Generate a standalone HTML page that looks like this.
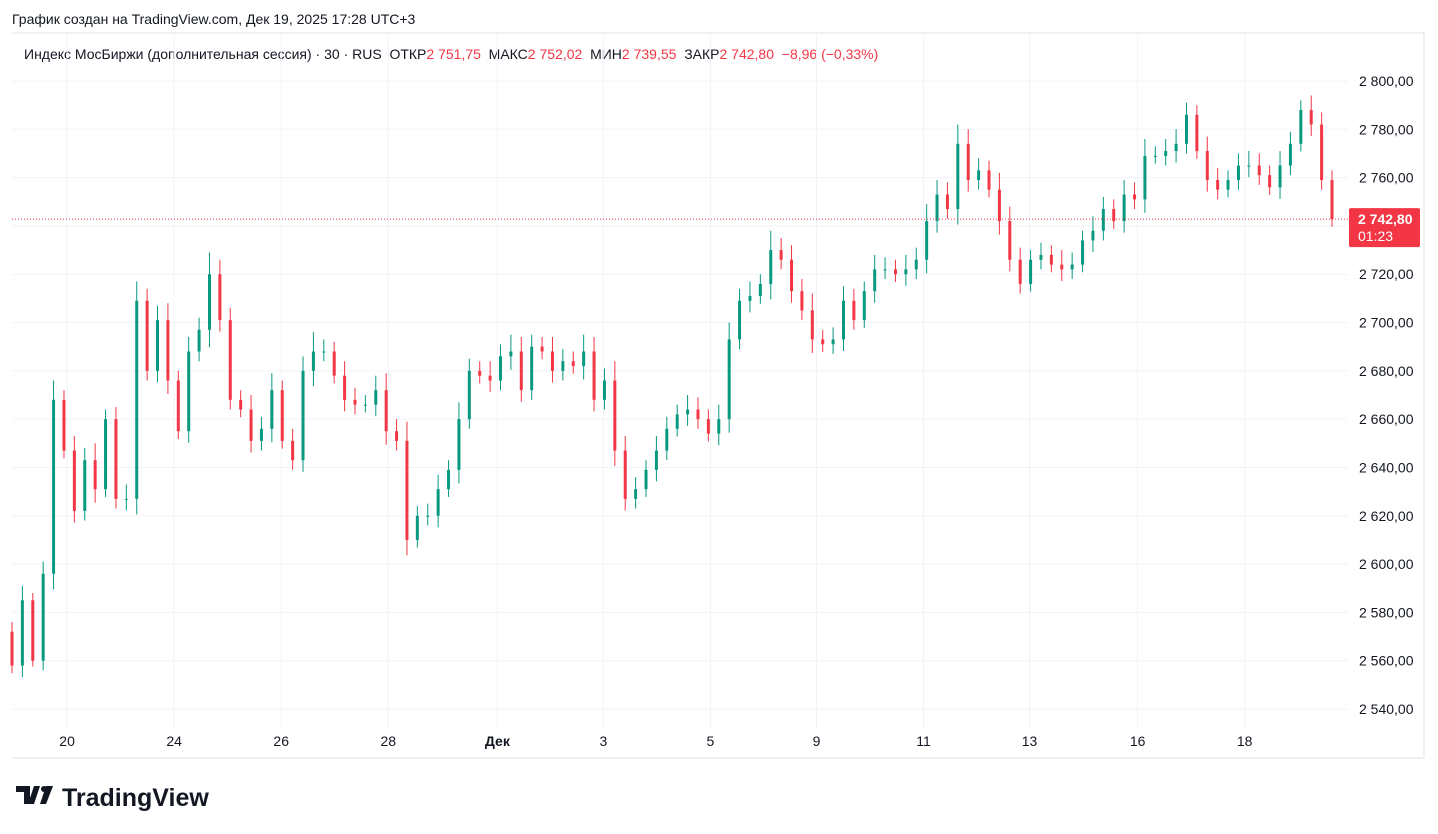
<!DOCTYPE html>
<html><head><meta charset="utf-8"><style>
body{margin:0;width:1438px;height:834px;background:#fff;overflow:hidden;font-family:"Liberation Sans",sans-serif}
</style></head><body>
<svg id="chart" width="1438" height="834" style="position:absolute;left:0;top:0">
<text x="12" y="24" font-size="14" fill="#131722">График создан на TradingView.com, Дек 19, 2025 17:28 UTC+3</text>
<text x="24" y="59" font-size="14" fill="#131722" xml:space="preserve">Индекс МосБиржи (дополнительная сессия) · 30 · RUS  ОТКР<tspan fill="#f23645">2 751,75</tspan>  МАКС<tspan fill="#f23645">2 752,02</tspan>  МИН<tspan fill="#f23645">2 739,55</tspan>  ЗАКР<tspan fill="#f23645">2 742,80  −8,96 (−0,33%)</tspan></text>
<line x1="12" y1="33" x2="1424" y2="33" stroke="#e0e3eb"/>
<line x1="1424" y1="33" x2="1424" y2="758" stroke="#e0e3eb"/>
<line x1="12" y1="758" x2="1424" y2="758" stroke="#e0e3eb"/>
<g id="grid"></g><g id="candles"></g><g id="axis"></g>
<g>
<path d="M16 786h14v18h-6v-12h-8z M34 786h6l-6 18h-6z" fill="#131722"/>
<circle cx="44" cy="789" r="3" fill="#131722"/>
<path d="M46 786h7l-7 18h-6z" fill="#131722"/>
<text x="62" y="806" font-size="25" font-weight="bold" fill="#131722">TradingView</text>
</g>
</svg>
<script>
const closes=[2558,2585,2560,2596,2668,2647,2622,2643,2631,2660,
2627,2627,2709,2680,2701,2676,2655,2688,2697,2720,
2701,2668,2664,2651,2656,2672,2651,2643,2680,2688,
2688,2678,2668,2666,2666,2672,2655,2651,2610,2620,
2620,2631,2639,2660,2680,2678,2676,2686,2688,2672,
2690,2688,2680,2684,2682,2688,2668,2676,2647,2627,
2631,2639,2647,2656,2662,2664,2660,2654,2660,2693,
2709,2711,2716,2730,2726,2713,2705,2693,2691,2693,
2709,2701,2713,2722,2722,2720,2722,2726,2742,2753,
2747,2774,2759,2763,2755,2742,2726,2716,2726,2728,
2724,2722,2724,2734,2738,2747,2742,2753,2751,2769,
2769,2771,2774,2786,2771,2759,2755,2759,2765,2765,
2761,2756,2765,2774,2788,2782,2759,2742.8];
const wicks=[4,6,3,5,8,4,6,5,7,4,5,6,8,5,6,7,4,6,5,9,6,5,4,6,5,7,4,5,6,8,
5,4,6,5,4,6,7,5,8,4,5,6,4,7,5,4,6,5,7,6,5,4,6,5,4,7,6,5,8,6,
5,4,6,5,4,6,5,4,6,7,5,6,4,8,5,6,5,7,4,5,6,5,4,6,5,4,6,5,7,6,
5,8,6,5,4,7,6,5,4,5,4,6,5,4,6,5,4,6,5,7,4,5,6,5,4,6,5,4,5,6,
5,4,6,5,4,6,5,4];
const firstOpen=2572;
const ticks=[2800,2780,2760,2740,2720,2700,2680,2660,2640,2620,2600,2580,2560,2540];
const dateLabels=["20","24","26","28","Дек","3","5","9","11","13","16","18"];
const dateIdx=[5.3,15.6,25.9,36.2,46.7,56.9,67.2,77.4,87.7,97.9,108.3,118.6];
const lastPrice=2742.8;
const NS="http://www.w3.org/2000/svg";
const y=p=>81+(2800-p)*(628/260);
const x0=12,x1=1332,step=(x1-x0)/(closes.length-1);
const xi=i=>x0+i*step;
function mk(t,a,parent){const e=document.createElementNS(NS,t);for(const k in a)e.setAttribute(k,a[k]);parent.appendChild(e);return e;}
const G=document.getElementById('grid'),C=document.getElementById('candles'),A=document.getElementById('axis');
ticks.forEach(t=>{
 const l=mk('line',{x1:12,x2:1348,y1:y(t),y2:y(t),stroke:'#f0f3fa'},G);
 
 
 const tx=mk('text',{x:1359,y:y(t)+5,'font-size':14,fill:'#131722'},A);
 tx.textContent=t.toLocaleString('ru-RU',{minimumFractionDigits:2}).replace(/\u00a0/g,' ');
 
 
});
dateLabels.forEach((d,k)=>{
 const xx=xi(dateIdx[k]);
 const l=mk('line',{x1:xx,x2:xx,y1:33,y2:730,stroke:'#f0f3fa'},G);
 
 
 const tx=mk('text',{x:xx,y:746,'font-size':14,fill:'#131722','text-anchor':'middle','font-weight':d==='Дек'?'bold':'normal'},A);
 tx.textContent=d;
 
 
});
closes.forEach((c,i)=>{
 const o=i?closes[i-1]:firstOpen;
 const hi=Math.max(o,c)+wicks[i],lo=Math.min(o,c)-wicks[i]*0.8;
 const col=c>=o?'#089981':'#f23645';
 const xx=xi(i);
 const w=mk('line',{x1:xx,x2:xx,y1:y(hi),y2:y(lo),stroke:col,'stroke-width':1},C);
 
 
 const top=y(Math.max(o,c)),bot=y(Math.min(o,c));
 const b=mk('rect',{x:xx-1.5,y:top,width:3,height:Math.max(1,bot-top),fill:col},C);
 
 
});
const pl=mk('line',{x1:12,x2:1348,y1:y(lastPrice),y2:y(lastPrice),stroke:'#f23645','stroke-dasharray':'1 2'},C);


const bx=mk('rect',{x:1349,y:y(lastPrice)-11,width:71,height:39,rx:2,fill:'#f23645'},A);


const t1=mk('text',{x:1358,y:y(lastPrice)+5,'font-size':14,'font-weight':'bold',fill:'#fff'},A);
t1.textContent='2 742,80';


const t2=mk('text',{x:1358,y:y(lastPrice)+22,'font-size':14,fill:'#fff'},A);
t2.textContent='01:23';


</script>
</body></html>
